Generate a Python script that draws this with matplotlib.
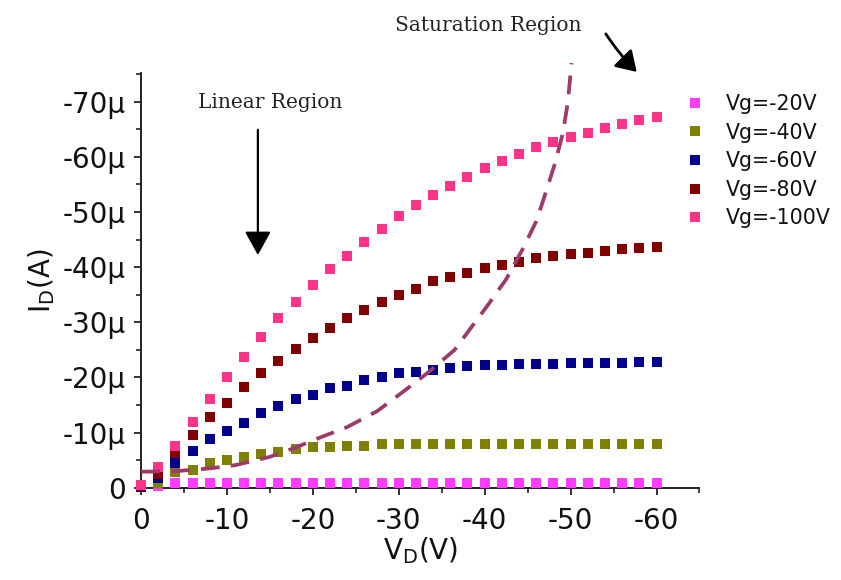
import matplotlib
matplotlib.use("Agg")
import matplotlib.pyplot as plt
from matplotlib.ticker import FixedLocator, FuncFormatter
from matplotlib.lines import Line2D

# ---------------- data (I_D in microamps, V_D in volts) ----------------
vd = [0, -2, -4, -6, -8, -10, -12, -14, -16, -18, -20, -22, -24, -26, -28, -30,
      -32, -34, -36, -38, -40, -42, -44, -46, -48, -50, -52, -54, -56, -58, -60]

id_vg20 = [-0.1, -0.3, -0.8, -0.9, -0.9, -0.9, -0.9, -0.9, -0.9, -0.9, -0.9, -0.9, -0.9, -0.9, -0.9, -0.9,
           -0.9, -0.9, -0.9, -0.9, -0.9, -0.9, -0.9, -0.9, -0.9, -0.9, -0.9, -0.9, -0.9, -0.9, -0.9]
id_vg40 = [-0.1, -0.9, -2.8, -3.3, -4.4, -5.0, -5.6, -6.2, -6.5, -7.0, -7.4, -7.4, -7.6, -7.6, -7.9, -7.9,
           -7.9, -7.9, -7.9, -8.0, -8.0, -8.0, -8.0, -8.0, -8.0, -8.0, -8.0, -8.0, -8.0, -8.0, -8.0]
id_vg60 = [-0.2, -1.8, -4.4, -6.7, -8.8, -10.3, -11.8, -13.5, -14.8, -16.0, -16.9, -18.0, -18.5, -19.5, -20.0, -20.8,
           -20.9, -21.4, -21.7, -22.1, -22.2, -22.3, -22.4, -22.5, -22.5, -22.6, -22.6, -22.7, -22.7, -22.8, -22.8]
id_vg80 = [-0.3, -2.4, -6.3, -9.6, -12.8, -15.4, -18.2, -20.8, -22.9, -25.1, -27.1, -29.0, -30.7, -32.2, -33.6, -35.0,
           -36.0, -37.4, -38.3, -39.0, -39.8, -40.4, -41.0, -41.6, -42.0, -42.4, -42.6, -43.0, -43.3, -43.4, -43.6]
id_vg100 = [-0.5, -3.7, -7.5, -12.0, -16.0, -20.0, -23.7, -27.4, -30.7, -33.7, -36.8, -39.6, -42.1, -44.6, -47.0, -49.3,
            -51.3, -53.1, -54.7, -56.3, -58.0, -59.3, -60.6, -61.7, -62.7, -63.6, -64.4, -65.2, -66.0, -66.6, -67.3]

series_labels = ["Vg=-20V", "Vg=-40V", "Vg=-60V", "Vg=-80V", "Vg=-100V"]
series_values = [id_vg20, id_vg40, id_vg60, id_vg80, id_vg100]
series_colors = ["#FF3CFF", "#808000", "#00008C", "#800000", "#FF3388"]

# saturation boundary (dashed curve)
sat_vd = [0, -4, -8, -11, -15, -18, -21, -24, -27.5, -30.5, -33.5, -36.5, -38.5,
          -40.5, -42.5, -44.5, -46, -47, -48.2, -49.1, -49.7, -50.1]
sat_id = [-2.9, -3.0, -3.5, -4.1, -5.6, -7.3, -9.2, -11.0, -13.9, -17.4, -21.0, -25.0, -29.2,
          -33.4, -37.8, -43.5, -48.3, -53.0, -58.9, -64.3, -70.1, -77.0]

x_ticks = [0, -10, -20, -30, -40, -50, -60]
y_ticks = [0, -10, -20, -30, -40, -50, -60, -70]

# ---------------- figure ----------------
fig = plt.figure(figsize=(8.41, 5.80), dpi=100)
ax = fig.add_axes([0.1677, 0.1591, 0.664, 0.715])

for vals, col, lab in zip(series_values, series_colors, series_labels):
    ax.plot(vd, vals, linestyle="none", marker="s", markersize=7, color=col,
            markeredgewidth=0, label=lab, clip_on=False, zorder=3)

ax.plot(sat_vd, sat_id, linestyle=(0, (5.0, 3.0)), color="#9B3A6B", linewidth=2.7,
        clip_on=False, zorder=4)

ax.set_xlim(0, -65)
ax.set_ylim(0, -75.2)

for s in ["top", "right"]:
    ax.spines[s].set_visible(False)
for s in ["left", "bottom"]:
    ax.spines[s].set_linewidth(1.4)
    ax.spines[s].set_color("#222222")

ax.xaxis.set_major_locator(FixedLocator(x_ticks))
ax.yaxis.set_major_locator(FixedLocator(y_ticks))
ax.xaxis.set_minor_locator(FixedLocator([-5, -15, -25, -35, -45, -55, -65]))
ax.yaxis.set_minor_locator(FixedLocator([-5, -15, -25, -35, -45, -55, -65, -75]))
ax.xaxis.set_major_formatter(FuncFormatter(lambda v, p: "0" if v == 0 else "%d" % v))
ax.yaxis.set_major_formatter(FuncFormatter(lambda v, p: "0" if v == 0 else "%d\u03bc" % v))
ax.tick_params(which="major", direction="out", length=5, width=1.3, color="#222222",
               labelsize=20, labelcolor="#111111")
ax.tick_params(which="minor", direction="out", length=3.5, width=1.2, color="#222222")
ax.tick_params(axis="x", which="major", pad=9)
ax.tick_params(axis="y", which="major", pad=6)

ax.set_xlabel(r"V$_\mathregular{D}$(V)", fontsize=20, color="#111111", labelpad=0)
ax.set_ylabel(r"I$_\mathregular{D}$(A)", fontsize=20, color="#111111", labelpad=4)

# annotations
ax.annotate("", xy=(-13.6, -42.2), xytext=(-13.6, -64.9),
            arrowprops=dict(arrowstyle="-|>,head_length=0.72,head_width=0.4",
                            mutation_scale=20, color="black", lw=1.6, shrinkA=0, shrinkB=0))
ax.text(-15.0, -69.8, "Linear Region", fontsize=14.5, family="DejaVu Serif",
        color="#222222", ha="center", va="center")
ax.text(-40.4, -83.8, "Saturation Region", fontsize=14.5, family="DejaVu Serif",
        color="#222222", ha="center", va="center", clip_on=False)
ax.annotate("", xy=(-57.7, -75.4), xytext=(-54.1, -82.3), annotation_clip=False,
            arrowprops=dict(arrowstyle="-|>,head_length=0.6,head_width=0.38",
                            connectionstyle="arc3,rad=0.05",
                            mutation_scale=20, color="black", lw=2.0, shrinkA=0, shrinkB=0))

# legend
handles = [Line2D([], [], linestyle="none", marker="s", markersize=6.5, color=c,
                  markeredgewidth=0) for c in series_colors]
fig.legend(handles, series_labels, loc="upper left", bbox_to_anchor=(0.8166, 0.838),
           frameon=False, fontsize=14.8, handlelength=0.8, handletextpad=1.1,
           labelspacing=0.42, borderpad=0, borderaxespad=0, labelcolor="#111111")

fig.savefig("out.png", dpi=100)
